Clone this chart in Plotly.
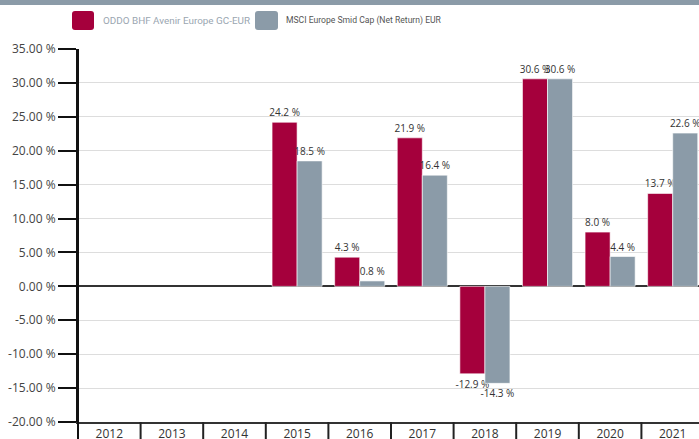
import plotly.graph_objects as go

years = ["2012", "2013", "2014", "2015", "2016", "2017", "2018", "2019", "2020", "2021"]
fund_name = "ODDO BHF Avenir Europe GC-EUR"
bench_name = "MSCI Europe Smid Cap (Net Return) EUR"
fund_values = [None, None, None, 24.2, 4.3, 21.9, -12.9, 30.6, 8.0, 13.7]
bench_values = [None, None, None, 18.5, 0.8, 16.4, -14.3, 30.6, 4.4, 22.6]
y_tickvals = [35, 30, 25, 20, 15, 10, 5, 0, -5, -10, -15, -20]
y_ticktext = ["35.00 %", "30.00 %", "25.00 %", "20.00 %", "15.00 %", "10.00 %", "5.00 %",
              "0.00 %", "-5.00 %", "-10.00 %", "-15.00 %", "-20.00 %"]

RED = "#a5003c"
GREY = "#8b9ba8"
FONT = "Open Sans"
LEG_FONT = "Roboto"

W, H = 699, 439
L, R, T, B = 78, 0, 49, 17
PW, PH = W - L - R, H - T - B


def px_x(x):
    return (x - L) / PW


def px_y(y):
    return (H - B - y) / PH


def fmt(v):
    return "" if v is None else f"{v:.1f} %"


fig = go.Figure()
for name, vals, col in [(fund_name, fund_values, RED), (bench_name, bench_values, GREY)]:
    fig.add_trace(go.Bar(
        x=years, y=vals, name=name,
        marker=dict(color=col, line=dict(color="rgba(255,255,255,0.6)", width=1)),
        text=[fmt(v) for v in vals], textposition="outside",
        textfont=dict(family=FONT, size=10, color="#333333"),
        constraintext="none", cliponaxis=False, showlegend=False,
    ))

shapes = []
shapes.append(dict(type="rect", xref="paper", yref="paper",
                   x0=px_x(-5), x1=px_x(W + 5), y0=px_y(5), y1=px_y(-5),
                   fillcolor=GREY, line=dict(width=0), layer="above"))
shapes.append(dict(type="line", xref="paper", yref="paper",
                   x0=0, x1=0, y0=px_y(H + 2), y1=1,
                   line=dict(color="#111111", width=2)))
for i in range(len(years) - 1):
    shapes.append(dict(type="line", xref="x", yref="paper",
                       x0=i + 0.5, x1=i + 0.5, y0=0, y1=px_y(H + 2),
                       line=dict(color="#222222", width=2)))


def rounded_box(x0, y0, x1, y1, r, color):
    X0, X1 = px_x(x0), px_x(x1)
    Y0, Y1 = px_y(y1), px_y(y0)
    rx, ry = r / PW, r / PH
    path = (f"M {X0+rx},{Y0} L {X1-rx},{Y0} Q {X1},{Y0} {X1},{Y0+ry} "
            f"L {X1},{Y1-ry} Q {X1},{Y1} {X1-rx},{Y1} L {X0+rx},{Y1} "
            f"Q {X0},{Y1} {X0},{Y1-ry} L {X0},{Y0+ry} Q {X0},{Y0} {X0+rx},{Y0} Z")
    return dict(type="path", xref="paper", yref="paper", path=path,
                fillcolor=color, line=dict(width=0))


shapes.append(rounded_box(72, 11, 94, 30, 3, RED))
shapes.append(rounded_box(255, 11, 278, 30, 3, GREY))

annotations = [
    dict(x=px_x(101), y=px_y(20.5), xref="paper", yref="paper", xanchor="left", yanchor="middle",
         text=fund_name, showarrow=False, font=dict(family=LEG_FONT, size=9.9, color="#9aa6b1")),
    dict(x=px_x(284), y=px_y(20.5), xref="paper", yref="paper", xanchor="left", yanchor="middle",
         text=bench_name, showarrow=False, font=dict(family=LEG_FONT, size=8.6, color="#555555")),
]

fig.update_layout(
    width=W, height=H,
    margin=dict(l=L, r=R, t=T, b=B, autoexpand=False),
    paper_bgcolor="white", plot_bgcolor="white",
    barmode="group", bargap=0.2, bargroupgap=0,
    font=dict(family=FONT, size=12, color="#444444"),
    shapes=shapes, annotations=annotations,
    xaxis=dict(type="category", range=[-0.5, 9.42], showline=True, linecolor="#333333",
               linewidth=2, ticks="", showgrid=False, automargin=False,
               tickfont=dict(family=FONT, size=12, color="#333333")),
    yaxis=dict(range=[-20, 35], tickvals=y_tickvals, ticktext=y_ticktext, automargin=False,
               showline=True, linecolor="#111111", linewidth=2,
               ticks="outside", ticklen=18, tickwidth=2, tickcolor="#111111",
               showgrid=True, gridcolor="#dddddd", gridwidth=1,
               zeroline=True, zerolinecolor="#333333", zerolinewidth=2,
               tickfont=dict(family=FONT, size=12, color="#444444")),
)

fig.write_html("out.html", config={"displayModeBar": False},
               post_script="document.body.style.margin='0';document.body.style.overflow='hidden';")
